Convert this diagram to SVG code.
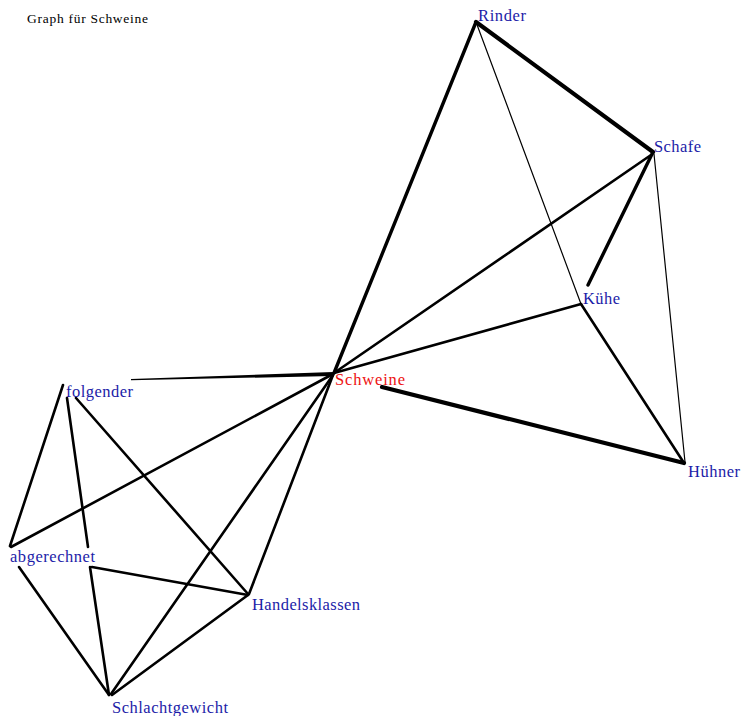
<svg xmlns="http://www.w3.org/2000/svg" width="741" height="716" viewBox="0 0 741 716">
<style>
.e{stroke:#000;fill:none;stroke-linecap:round}
.w1{stroke-width:1.2}
.w2{stroke-width:2.6}
.w3{stroke-width:3.4}
.w4{stroke-width:4.2}
.lbl{font-family:"Liberation Serif","DejaVu Serif",serif;font-size:16.5px;fill:#1c1ca8}
.hub{fill:#ee1111}
.title{font-family:"Liberation Serif","DejaVu Serif",serif;font-size:13.5px;fill:#000}
</style>
<rect width="741" height="716" fill="#fff"/>
<text class="title" x="27" y="23" textLength="121">Graph für Schweine</text>
<g id="connectors">
<line class="e w4" x1="476" y1="22" x2="653" y2="152"/>
<line class="e w3" x1="476" y1="22" x2="334" y2="373"/>
<line class="e w1" x1="476" y1="22" x2="581" y2="304"/>
<line class="e w3" x1="653" y1="152" x2="588" y2="285"/>
<line class="e w1" x1="654" y1="154" x2="685" y2="462"/>
<line class="e w2" x1="651" y1="155" x2="334" y2="373"/>
<line class="e w2" x1="581" y1="304" x2="334" y2="373"/>
<line class="e w2" x1="581" y1="304" x2="684" y2="463"/>
<line class="e w4" x1="382" y1="387" x2="684" y2="463"/>
<polygon points="131,379 333,372 333,376 131,380.2" fill="#000"/>
<line class="e w2" x1="333" y1="374" x2="11" y2="547"/>
<line class="e w2" x1="333" y1="375" x2="111" y2="694"/>
<line class="e w2" x1="333" y1="375" x2="249" y2="594"/>
<line class="e w2" x1="63" y1="385" x2="10" y2="546"/>
<line class="e w2" x1="67" y1="398" x2="88" y2="547"/>
<line class="e w2" x1="90" y1="567" x2="109" y2="695"/>
<line class="e w2" x1="76" y1="398" x2="248" y2="594"/>
<line class="e w2" x1="92" y1="567" x2="248" y2="595"/>
<line class="e w2" x1="19" y1="567" x2="109" y2="695"/>
<line class="e w2" x1="248" y1="595" x2="112" y2="695"/>
</g>
<g id="n-rinder"><text class="lbl" x="478" y="21" textLength="48">Rinder</text></g>
<g id="n-schafe"><text class="lbl" x="654" y="152" textLength="47">Schafe</text></g>
<g id="n-kuehe"><text class="lbl" x="583" y="304" textLength="37">Kühe</text></g>
<g id="n-huehner"><text class="lbl" x="688" y="477" textLength="52">Hühner</text></g>
<g id="n-schweine"><text class="lbl hub" x="335" y="385" textLength="70">Schweine</text></g>
<g id="n-folgender"><text class="lbl" x="66" y="397" textLength="67">folgender</text></g>
<g id="n-abgerechnet"><text class="lbl" x="10" y="562" textLength="85">abgerechnet</text></g>
<g id="n-handelsklassen"><text class="lbl" x="252" y="610" textLength="108">Handelsklassen</text></g>
<g id="n-schlachtgewicht"><text class="lbl" x="112" y="713" textLength="116">Schlachtgewicht</text></g>
</svg>
